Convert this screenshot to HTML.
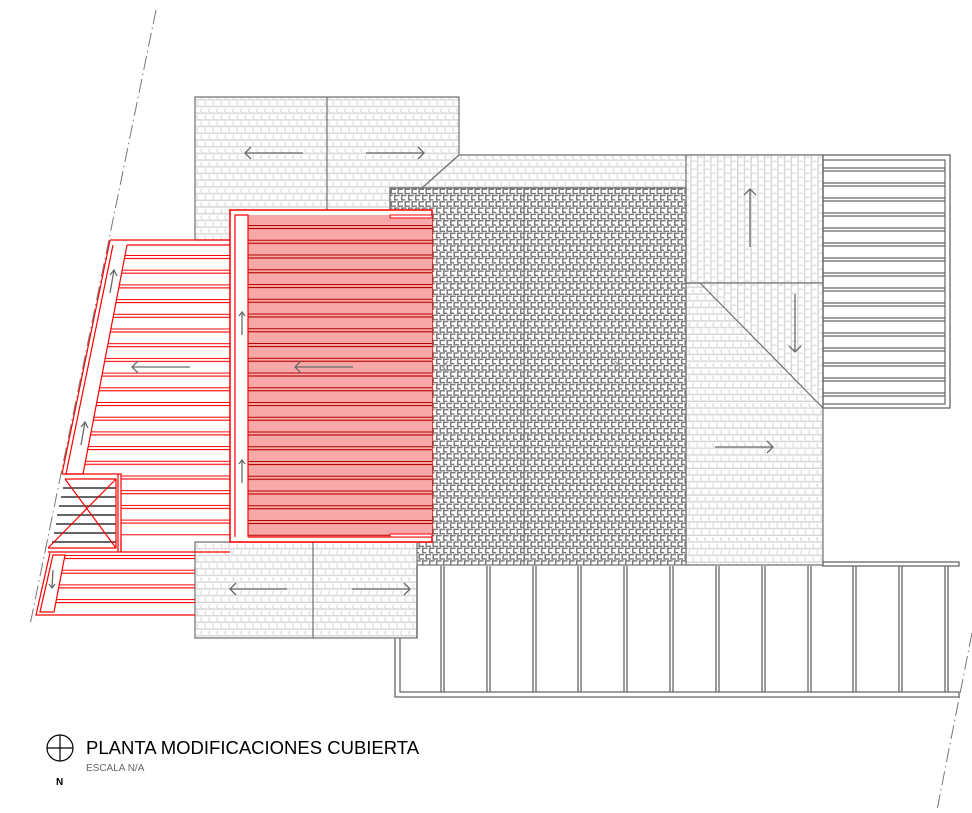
<!DOCTYPE html>
<html><head><meta charset="utf-8"><style>
html,body{margin:0;padding:0;background:#fff;}
svg{display:block;}
</style></head><body>
<svg width="972" height="813" viewBox="0 0 972 813" xmlns="http://www.w3.org/2000/svg">
<defs>
  <pattern id="lt" width="8" height="13.4" patternUnits="userSpaceOnUse">
    <rect width="8" height="13.4" fill="#fff"/>
    <path d="M1.5 1 Q0.5 3.3 1.5 5.7 H7.5 M5.5 7.7 Q4.5 10 5.5 12.4 H8 M0 12.4 H3.5 M0 6.2 H8 M0 12.9 H8" stroke="#d6d6d6" stroke-width="1.1" fill="none"/>
  </pattern>
  <pattern id="ltv" width="8" height="13.4" patternUnits="userSpaceOnUse" patternTransform="rotate(90)">
    <rect width="8" height="13.4" fill="#fff"/>
    <path d="M1.5 1 Q0.5 3.3 1.5 5.7 H7.5 M5.5 7.7 Q4.5 10 5.5 12.4 H8 M0 12.4 H3.5 M0 6.2 H8 M0 12.9 H8" stroke="#d6d6d6" stroke-width="1.1" fill="none"/>
  </pattern>
  <pattern id="dk" width="7" height="12.6" patternUnits="userSpaceOnUse" x="390" y="188">
    <rect width="7" height="12.6" fill="#fff"/>
    <path d="M6 1.2 H1.2 V5.6 H6 M2.5 7.5 H0 M7 7.5 H4.7 V11.9 H7 M0 11.9 H1.2" stroke="#7a7a7a" stroke-width="1.5" fill="none"/>
  </pattern>
  <pattern id="pk" width="200" height="14.75" patternUnits="userSpaceOnUse" y="225">
    <rect width="200" height="14.75" fill="#f8a8a8"/>
    <line x1="0" y1="0.5" x2="200" y2="0.5" stroke="#b40000" stroke-width="1"/>
    <line x1="0" y1="3.5" x2="200" y2="3.5" stroke="#b40000" stroke-width="1"/>
  </pattern>
  <pattern id="rd" width="300" height="14.7" patternUnits="userSpaceOnUse" y="255">
    <line x1="0" y1="0.5" x2="300" y2="0.5" stroke="#f00" stroke-width="1"/>
    <line x1="0" y1="3.5" x2="300" y2="3.5" stroke="#f00" stroke-width="1"/>
  </pattern>
  <pattern id="rd2" width="300" height="14.7" patternUnits="userSpaceOnUse" y="555">
    <line x1="0" y1="0.5" x2="300" y2="0.5" stroke="#f00" stroke-width="1"/>
    <line x1="0" y1="3.5" x2="300" y2="3.5" stroke="#f00" stroke-width="1"/>
  </pattern>
  <pattern id="gs" width="300" height="15" patternUnits="userSpaceOnUse" y="160">
    <line x1="0" y1="8" x2="300" y2="8" stroke="#666" stroke-width="1.2"/>
    <line x1="0" y1="11" x2="300" y2="11" stroke="#666" stroke-width="1.2"/>
  </pattern>
</defs>

<!-- dash-dot lines -->
<g stroke="#777" stroke-width="1" stroke-dasharray="14,4,1.5,4" fill="none">
  <line x1="156" y1="10" x2="30" y2="625"/>
  <line x1="972" y1="633" x2="937" y2="810"/>
</g>

<!-- top-left light block -->
<path d="M195 97 H459 V155 L422 188 H390 V240 H195 Z" fill="url(#lt)" stroke="#707070" stroke-width="1.2"/>
<line x1="327" y1="97" x2="327" y2="212" stroke="#707070" stroke-width="1.2"/>

<!-- big light region -->
<path d="M459 155 H823 V565 H686 V188 H422 Z" fill="url(#lt)" stroke="#707070" stroke-width="1.2"/>
<rect x="686" y="155" width="137" height="128" fill="url(#ltv)" stroke="#707070" stroke-width="1.2"/>
<path d="M700 283 H823 V408 Z" fill="url(#ltv)"/>
<line x1="686" y1="283" x2="823" y2="283" stroke="#707070" stroke-width="1.2"/>
<line x1="700" y1="283" x2="823" y2="408" stroke="#707070" stroke-width="1.2"/>

<!-- dark block -->
<rect x="390" y="188" width="296" height="377" fill="url(#dk)" stroke="#707070" stroke-width="1.2"/>
<line x1="524" y1="188" x2="524" y2="565" stroke="#707070" stroke-width="1.2"/>

<!-- right striped block -->
<rect x="823" y="155" width="127" height="253" fill="#fff" stroke="#666" stroke-width="1.3"/>
<rect x="823" y="160" width="122" height="244" fill="url(#gs)" stroke="#666" stroke-width="1.2"/>

<!-- bottom light blocks -->
<rect x="195" y="542" width="222" height="96" fill="url(#lt)" stroke="#707070" stroke-width="1.2"/>
<line x1="313" y1="542" x2="313" y2="638" stroke="#707070" stroke-width="1.2"/>

<!-- pergola -->
<g stroke="#666" stroke-width="1.3" fill="none">
  <rect x="823" y="562" width="136" height="4" fill="#fff"/>
  <path d="M395 638 V697 H959 V692 H400 V638"/>
  <line x1="417" y1="566" x2="417" y2="638"/>
  <path d="M441 566 V692 M444 566 V692 M487 566 V692 M490 566 V692 M533 566 V692 M536 566 V692 M578 566 V692 M581 566 V692 M624 566 V692 M627 566 V692 M670 566 V692 M673 566 V692 M716 566 V692 M719 566 V692 M762 566 V692 M765 566 V692 M808 566 V692 M811 566 V692 M853 566 V692 M856 566 V692 M899 566 V692 M902 566 V692 M945 566 V692 M948 566 V692"/>
</g>

<!-- red center -->
<rect x="230" y="210" width="202" height="332" fill="#fff" stroke="#f00" stroke-width="1.5"/>
<rect x="248" y="215" width="184" height="322" fill="url(#pk)"/>
<path d="M235 537 V215 H248 V537 M248 537 H432" stroke="#f00" stroke-width="1.2" fill="none"/>
<rect x="390" y="215" width="42" height="3" fill="#fff" stroke="#f00" stroke-width="1"/>
<rect x="390" y="534" width="42" height="3" fill="#fff" stroke="#f00" stroke-width="1"/>

<!-- left deck -->
<path d="M127 245 H230 V537 H121 V474 H83 Z" fill="url(#rd)"/>
<path d="M110 240 H230 M127 245 H230 M110 240 L62 474 M113 245 L66 474 M127 245 L83 474 M66 474 H83" stroke="#f00" stroke-width="1.2" fill="none"/>
<!-- stair box -->
<g stroke="#666" stroke-width="2">
  <line x1="63" y1="488" x2="116" y2="488"/><line x1="61" y1="497" x2="116" y2="497"/>
  <line x1="59" y1="506" x2="116" y2="506"/><line x1="57" y1="515" x2="116" y2="515"/>
  <line x1="56" y1="524" x2="116" y2="524"/><line x1="54" y1="533" x2="116" y2="533"/>
  <line x1="52" y1="542" x2="116" y2="542"/>
</g>
<path d="M62 474 H121 V552 H48 M65 479 H116 V548 H48 M116 548 L65 479 M48 548 L116 479 M118 474 V552" stroke="#f00" stroke-width="1.2" fill="none"/>
<!-- lower deck -->
<path d="M65 555 H195 V612 H54 Z" fill="url(#rd2)"/>
<path d="M121 552 H230 M50 553 L36 615 H195 M53 555 L40 612 H54 L65 555 Z" stroke="#f00" stroke-width="1.2" fill="none"/>
<line x1="121" y1="537" x2="121" y2="552" stroke="#f00" stroke-width="1.2"/>

<!-- arrows -->
<g stroke="#6a6a6a" stroke-width="1.3" fill="none">
  <path d="M303 153 H245 M251 147 L245 153 L251 159"/>
  <path d="M366 153 H424 M418 147 L424 153 L418 159"/>
  <path d="M750 247 V189 M744 195 L750 189 L756 195"/>
  <path d="M795 294 V352 M789 346 L795 352 L801 346"/>
  <path d="M715 447 H773 M767 441 L773 447 L767 453"/>
  <path d="M353 367 H295 M301 361 L295 367 L301 373"/>
  <path d="M190 367 H132 M138 361 L132 367 L138 373"/>
  <path d="M242 335 V312 M239 316 L242 312 L245 316"/>
  <path d="M242 483 V460 M239 464 L242 460 L245 464"/>
  <path d="M110 293 L114 270 M110 275 L114 270 L117 276"/>
  <path d="M81 445 L85 422 M81 427 L85 422 L88 428"/>
  <path d="M53 570 L52 588 M49 584 L52 588 L55 584"/>
  <path d="M287 589 H230 M236 583 L230 589 L236 595"/>
  <path d="M352 589 H410 M404 583 L410 589 L404 595"/>
  <path d="M448 361 L443 367 L448 373" stroke="#999"/>
  <path d="M615 361 L620 367 L615 373" stroke="#999"/>
</g>

<!-- title -->
<circle cx="60" cy="748" r="13" fill="none" stroke="#000" stroke-width="1.2"/>
<path d="M47 748 H73 M60 735 V761" stroke="#000" stroke-width="1.2"/>
<text x="56" y="785" font-family="Liberation Sans, sans-serif" font-size="10" font-weight="bold" fill="#000">N</text>
<text x="86" y="754" font-family="Liberation Sans, sans-serif" font-size="18.5" fill="#000">PLANTA MODIFICACIONES CUBIERTA</text>
<text x="86" y="771" font-family="Liberation Sans, sans-serif" font-size="10" fill="#666">ESCALA N/A</text>
</svg>
</body></html>
